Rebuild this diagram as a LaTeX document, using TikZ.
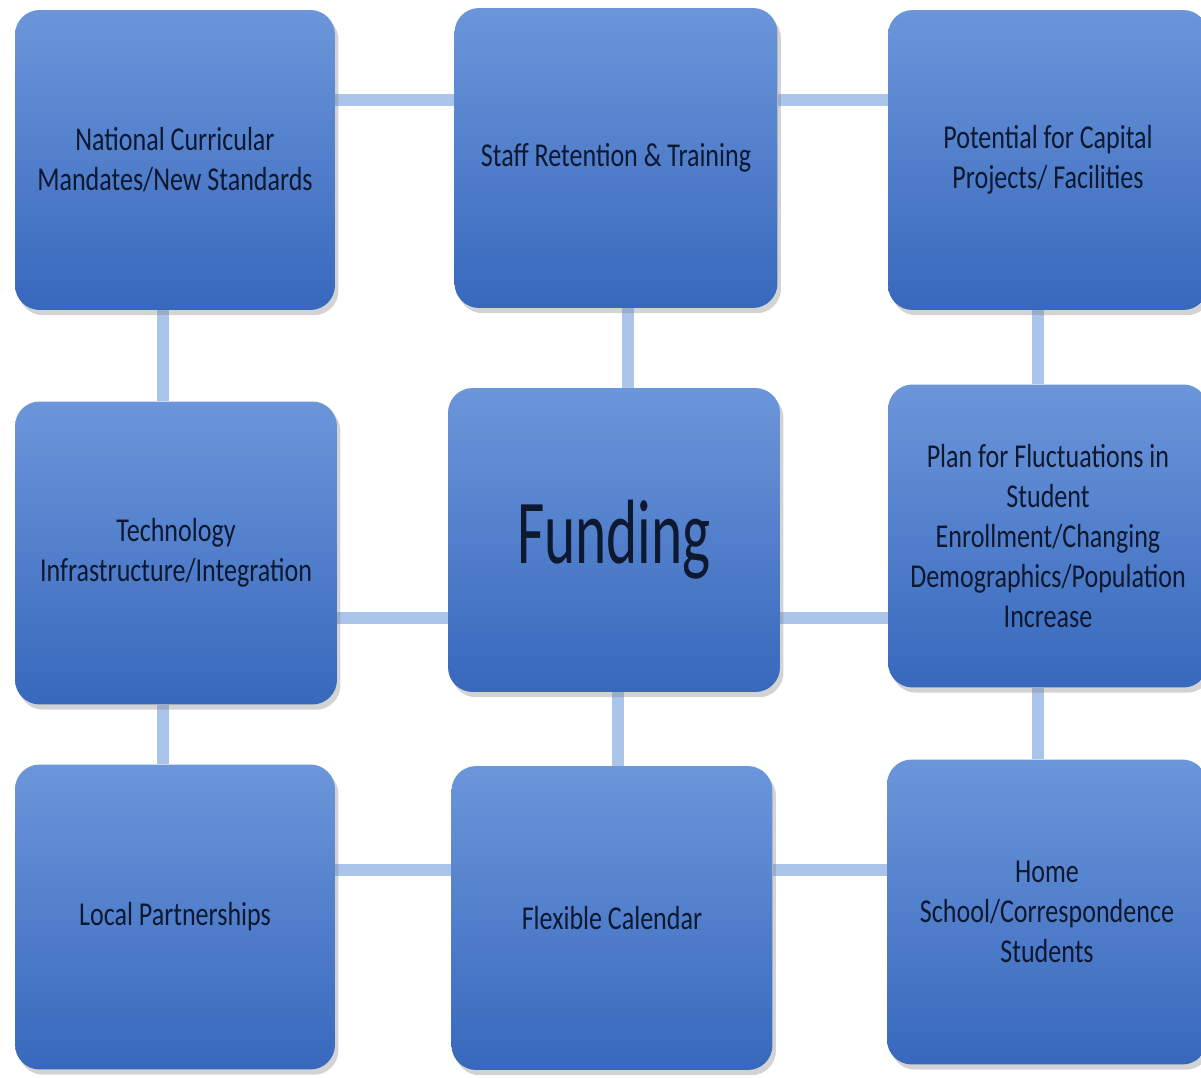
\documentclass[tikz,border=0pt]{standalone}
\usepackage{fontspec}
\setmainfont{Carlito}[FakeStretch=0.78]
\newfontfamily\hubfont{Carlito}[FakeStretch=0.65]
\usetikzlibrary{shadows,backgrounds}
\definecolor{boxtop}{RGB}{108,150,218}
\definecolor{boxbot}{RGB}{55,104,188}
\definecolor{linkblue}{RGB}{170,196,234}
\definecolor{ink}{RGB}{14,24,48}
\tikzset{
  box/.style={rectangle, rounded corners=14pt, top color=boxtop, bottom color=boxbot,
    draw=none, text=ink, align=center, inner sep=0pt,
    drop shadow={shadow xshift=2pt, shadow yshift=-3pt, opacity=.35},
    font=\fontsize{19}{22.8}\selectfont},
  link/.style={linkblue, line width=7pt},
}
\begin{document}
\begin{tikzpicture}[x=0.02cm,y=-0.02cm]
  \useasboundingbox (0,0) rectangle (1201,1078);
  % top row
  \node[box, minimum width=6.4cm, minimum height=6cm] (mandates) at (175,160) {National Curricular\\Mandates/New Standards};
  \node[box, minimum width=6.46cm, minimum height=6cm] (staff) at (616,158) {Staff Retention \& Training};
  \node[box, minimum width=6.4cm, minimum height=6cm] (capital) at (1048,160) {Potential for Capital\\Projects/ Facilities};
  % middle row
  \node[box, minimum width=6.44cm, minimum height=6.06cm] (tech) at (176,553) {Technology\\Infrastructure/Integration};
  \node[box, minimum width=6.64cm, minimum height=6.08cm, font=\hubfont\fontsize{52}{60}\selectfont] (funding) at (614,540) {Funding};
  \node[box, minimum width=6.4cm, minimum height=6.06cm] (enroll) at (1048,536) {Plan for Fluctuations in\\Student\\Enrollment/Changing\\Demographics/Population\\Increase};
  % bottom row
  \node[box, minimum width=6.4cm, minimum height=6.1cm] (local) at (175,917) {Local Partnerships};
  \node[box, minimum width=6.42cm, minimum height=6.08cm] (calendar) at (612,918) {Flexible Calendar};
  \node[box, minimum width=6.4cm, minimum height=6.1cm] (home) at (1047,912) {Home\\School/Correspondence\\Students};
  \begin{scope}[on background layer]
    \draw[link] (mandates.east |- 0,100) -- (staff.west |- 0,100);
    \draw[link] (staff.east |- 0,100) -- (capital.west |- 0,100);
    \draw[link] (mandates.south -| 163,0) -- (tech.north -| 163,0);
    \draw[link] (staff.south -| 628,0) -- (funding.north -| 628,0);
    \draw[link] (capital.south -| 1038,0) -- (enroll.north -| 1038,0);
    \draw[link] (tech.east |- 0,618) -- (funding.west |- 0,618);
    \draw[link] (funding.east |- 0,618) -- (enroll.west |- 0,618);
    \draw[link] (tech.south -| 163,0) -- (local.north -| 163,0);
    \draw[link] (funding.south -| 618,0) -- (calendar.north -| 618,0);
    \draw[link] (enroll.south -| 1038,0) -- (home.north -| 1038,0);
    \draw[link] (local.east |- 0,870) -- (calendar.west |- 0,870);
    \draw[link] (calendar.east |- 0,870) -- (home.west |- 0,870);
  \end{scope}
\end{tikzpicture}
\end{document}
